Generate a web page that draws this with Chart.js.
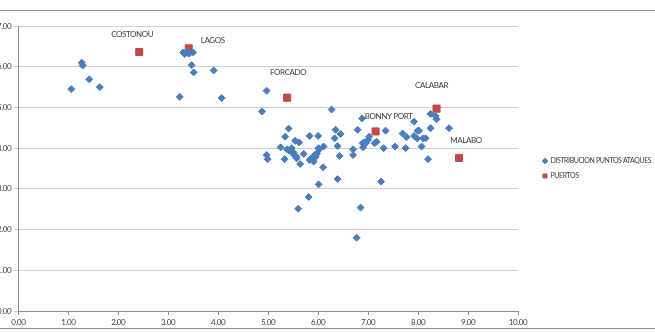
<!DOCTYPE html>
<html>
<head>
<meta charset="utf-8">
<script src="https://cdn.jsdelivr.net/npm/chart.js@4/dist/chart.umd.min.js"></script>
<style>
  body { margin: 0; background: #fff; overflow: hidden; }
  #frame { position: absolute; left: -2px; top: 10px; width: 660px; height: 317px;
           border-top: 1px solid #9a9a9a; border-bottom: 1px solid #8a8a8a; }
  #wrap { position: absolute; left: -6px; top: 0; width: 700px; height: 332px; }
</style>
</head>
<body>
<div id="frame"></div>
<div id="wrap"><canvas id="myScatterChart" width="700" height="332"></canvas></div>
<script>
// Attack points (x, y)
const attackX = [1.06, 1.27, 1.29, 1.42, 1.63, 3.23, 3.30, 3.33, 3.37, 3.40, 3.43, 3.50,
    3.47, 3.51, 3.91, 4.07, 4.97, 4.88, 6.27, 5.41, 5.34, 5.25, 4.97, 4.99, 5.33, 5.54,
    5.62, 5.83, 6.00, 6.35, 6.45, 6.33, 6.39, 6.43, 6.11, 6.10, 5.64, 5.71, 6.39, 6.79,
    6.88, 6.70, 6.70, 6.89, 6.95, 7.00, 7.02, 5.89, 5.95, 5.98, 6.02, 5.83, 5.91, 5.47,
    5.42, 5.51, 5.57, 5.38, 5.52, 5.57, 5.47, 6.01, 6.01, 5.81, 5.60, 6.85, 6.77, 7.26,
    7.35, 7.17, 7.13, 7.31, 7.54, 7.69, 7.77, 7.75, 7.92, 7.92, 7.99, 8.02, 7.98, 8.10,
    8.15, 8.07, 8.20, 8.25, 8.35, 8.37, 8.62, 8.25, 6.90, 6.92, 5.93, 5.87];
const attackY = [5.45, 6.10, 6.03, 5.69, 5.50, 5.26, 6.35, 6.31, 6.37, 6.33, 6.33, 6.35,
    6.04, 5.86, 5.91, 5.23, 5.41, 4.90, 4.95, 4.48, 4.28, 4.02, 3.83, 3.73, 3.73, 4.18,
    4.14, 4.30, 4.30, 4.45, 4.35, 4.24, 4.05, 3.81, 4.04, 3.53, 3.61, 3.86, 3.24, 4.45,
    4.73, 3.97, 3.83, 4.12, 4.12, 4.20, 4.28, 3.75, 3.79, 3.87, 3.97, 3.71, 3.67, 4.00,
    3.94, 3.89, 3.79, 3.97, 3.83, 3.75, 3.91, 4.00, 3.11, 2.80, 2.51, 2.54, 1.80, 3.18,
    4.43, 4.16, 4.12, 4.00, 4.04, 4.36, 4.27, 4.00, 4.65, 4.30, 4.43, 4.43, 4.24, 4.24,
    4.24, 4.04, 3.73, 4.84, 4.79, 4.71, 4.49, 4.49, 4.02, 4.14, 3.83, 3.75];

// Ports
const portNames = ["COSTONOU", "LAGOS", "FORCADO", "BONNY PORT", "CALABAR", "MALABO"];
const portX = [2.42, 3.41, 5.38, 7.15, 8.37, 8.82];
const portY = [6.36, 6.45, 5.24, 4.41, 4.97, 3.76];

// label offsets from the port marker, in pixels
const labelOffsets = [[-7, -18], [24, -8], [1, -25], [13, -15], [-5, -23], [7, -17]];

const FONT = 'Lato, "Liberation Sans", Arial, sans-serif';
Chart.defaults.font.family = FONT;
Chart.defaults.font.size = 8;
Chart.defaults.color = '#404040';

// the original uses a narrow font, tighten the spacing a little
const tightText = {
    id: 'tightText',
    beforeDraw(chart) {
        chart.ctx.letterSpacing = '-0.4px';
    }
};

const portLabels = {
    id: 'portLabels',
    afterDatasetsDraw(chart) {
        const meta = chart.getDatasetMeta(1);
        const ctx = chart.ctx;
        ctx.save();
        ctx.font = '8px ' + FONT;
        ctx.fillStyle = '#404040';
        ctx.textAlign = 'center';
        ctx.textBaseline = 'middle';
        meta.data.forEach((pt, i) => {
            ctx.fillText(portNames[i], pt.x + labelOffsets[i][0], pt.y + labelOffsets[i][1]);
        });
        ctx.restore();
    }
};

// keep the legend box a fixed width so the plot area does not move
const legendWidth = {
    id: 'legendWidth',
    afterInit(chart) {
        const legend = chart.legend;
        const fit = legend.fit;
        legend.fit = function () {
            fit.call(this);
            this.width = 140;
        };
    }
};

const scatterConfig = {
    type: 'scatter',
    data: {
        datasets: [{
            label: "DISTRIBUCION PUNTOS ATAQUES",
            data: attackX.map((x, i) => ({x: x, y: attackY[i]})),
            pointStyle: 'rectRot',
            pointRadius: 3.5,
            borderWidth: 1,
            backgroundColor: '#4A7EBB',
            borderColor: '#4A7EBB'
        }, {
            label: "PUERTOS",
            data: portX.map((x, i) => ({x: x, y: portY[i]})),
            pointStyle: 'rect',
            pointRadius: 5,
            borderWidth: 1,
            backgroundColor: '#BE4B48',
            borderColor: '#BE4B48'
        }]
    },
    options: {
        responsive: false,
        animation: false,
        layout: { padding: { top: 26, right: 19, bottom: 0, left: 0 } },
        scales: {
            x: {
                min: 0, max: 10,
                ticks: { stepSize: 1, autoSkip: false, maxRotation: 0, padding: 3,
                         callback: v => v.toFixed(2) },
                grid: { drawOnChartArea: false, tickLength: 4, color: '#8c8c8c' },
                border: { color: '#8c8c8c' },
                afterFit: s => { s.height = 21; }
            },
            y: {
                min: 0, max: 7,
                ticks: { stepSize: 1, padding: 3, callback: v => v.toFixed(2) },
                grid: { tickLength: 4, color: '#d0d0d0' },
                border: { color: '#8c8c8c' },
                afterFit: s => { s.width = 24.3; }
            },
            gap: {
                type: 'linear', position: 'right', axis: 'y',
                ticks: { display: false },
                grid: { display: false, drawTicks: false },
                border: { display: false },
                afterFit: s => { s.width = 17; }
            }
        },
        plugins: {
            legend: {
                position: 'right',
                fullSize: false,
                labels: {
                    usePointStyle: true,
                    boxWidth: 4,
                    boxHeight: 4,
                    padding: 8,
                    font: { size: 7 }
                }
            },
            tooltip: { enabled: false }
        }
    },
    plugins: [tightText, portLabels, legendWidth]
};

var ctx = document.getElementById("myScatterChart");
var myScatterChart = new Chart(ctx, scatterConfig);
</script>
</body>
</html>
